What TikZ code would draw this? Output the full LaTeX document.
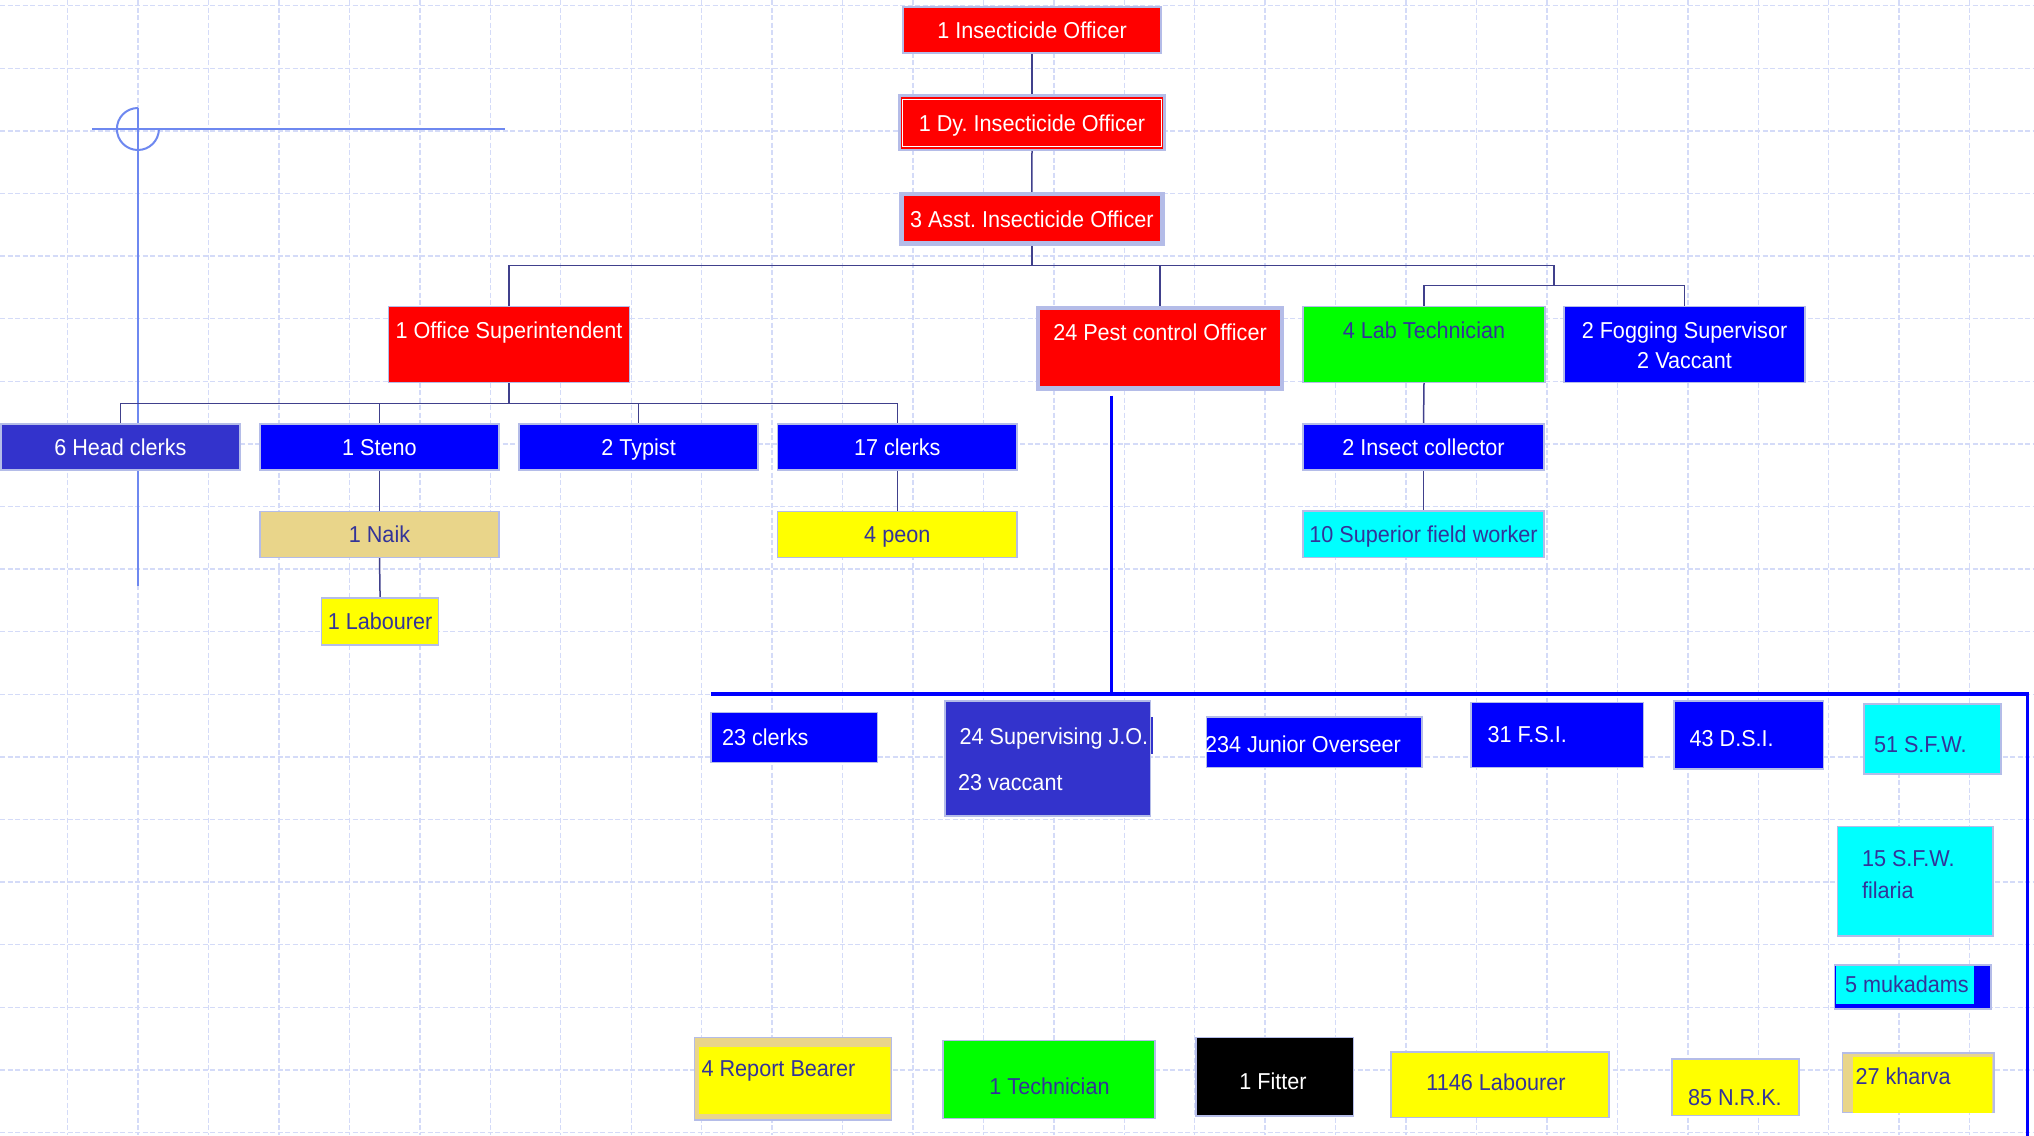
\documentclass[tikz,border=0pt]{standalone}
\usepackage{fontspec}
\setmainfont{Liberation Sans}[FakeStretch=0.94]
\usetikzlibrary{fit}
\definecolor{lav}{RGB}{180,188,232}
\definecolor{gridc}{RGB}{212,219,248}
\definecolor{connc}{RGB}{64,64,140}
\definecolor{strayc}{RGB}{110,136,240}
\definecolor{dark}{RGB}{51,51,153}
\definecolor{slate}{RGB}{51,51,204}
\definecolor{khaki}{RGB}{233,213,138}
\definecolor{redc}{RGB}{255,0,0}
\definecolor{bluec}{RGB}{0,0,255}
\definecolor{greenc}{RGB}{0,255,0}
\definecolor{cyanc}{RGB}{0,255,255}
\definecolor{yellowc}{RGB}{255,255,0}
\definecolor{blackc}{RGB}{0,0,0}
\newcommand\myfnt{\fontsize{23}{27}\selectfont\frenchspacing}
\pgfdeclarelayer{bg}
\pgfsetlayers{bg,main}
\begin{document}
\begin{tikzpicture}[x=1pt,y=-1pt,
  bx/.style={draw=lav, line width=1.5pt, inner sep=0pt, outer sep=0pt},
  tx/.style={inner sep=0pt, outer sep=0pt, font=\myfnt, text height=16.5pt, text depth=0pt},
  conn/.style={draw=connc, line width=1.5pt},
  bline/.style={draw=bluec, line width=3.5pt},
  stray/.style={draw=strayc, line width=2pt},
  gridline/.style={draw=gridc, line width=1.4pt, dash pattern=on 5pt off 2.5pt}]
\useasboundingbox (0,0) rectangle (2034,1135);
\begin{pgfonlayer}{bg}
\fill[white] (0,0) rectangle (2034,1135);
\foreach \i in {0,...,28} \draw[gridline] ({-2.74+70.44*\i},0) -- ({-2.74+70.44*\i},1135);
\foreach \j in {0,...,18} \draw[gridline] (0,{5.7+62.6*\j}) -- (2034,{5.7+62.6*\j});
\draw[stray] (92,129) -- (505,129);
\draw[stray] (137.9,108) -- (137.9,586);
\draw[stray] (137.9,108) arc[start angle=90, end angle=360, radius=21pt];
\end{pgfonlayer}

% top chain
\node[bx,fill=redc,fit={(903,7)(1161,53)}] (io) {};
\node[tx,text=white] (iot) at (io.center) {1 Insecticide Officer};
\node[bx,fill=redc,line width=2.5pt,fit={(899.5,95.5)(1164.5,150)}] (dy) {};
\draw[white,line width=1pt] (902.7,99) rectangle (1161.3,146.7);
\node[tx,text=white] (dyt) at (dy.center) {1 Dy. Insecticide Officer};
\node[bx,fill=redc,line width=4.5pt,fit={(901.3,194.2)(1162.3,243.6)}] (asst) {};
\node[tx,text=white] (asstt) at (asst.center) {3 Asst. Insecticide Officer};

% second level
\node[bx,fill=redc,fit={(388.5,306.7)(629.6,382.7)}] (os) {};
\node[tx,text=white] (ost) at (509,330) {1 Office Superintendent};
\node[bx,fill=redc,line width=4.5pt,fit={(1038,308)(1282,388.5)}] (pc) {};
\node[tx,text=white] (pct) at (1160,332.7) {24 Pest control Officer};
\node[bx,fill=greenc,fit={(1303,306.7)(1545,382.7)}] (lab) {};
\node[tx,text=dark] (labt) at (1424,330) {4 Lab Technician};
\node[bx,fill=bluec,fit={(1564,306.7)(1805,382.7)}] (fog) {};
\node[tx,text=white] (fogt1) at (1684.5,330) {2 Fogging Supervisor};
\node[tx,text=white] (fogt2) at (1684.5,360) {2 Vaccant};

% office row
\node[bx,fill=slate,fit={(0.75,424)(240,470)}] (hc) {};
\node[tx,text=white] (hct) at (hc.center) {6 Head clerks};
\node[bx,fill=bluec,fit={(260,424)(499,470)}] (steno) {};
\node[tx,text=white] (stenot) at (steno.center) {1 Steno};
\node[bx,fill=bluec,fit={(519,424)(758,470)}] (typist) {};
\node[tx,text=white] (typistt) at (typist.center) {2 Typist};
\node[bx,fill=bluec,fit={(777.6,424)(1017,470)}] (clA) {};
\node[tx,text=white] (clAt) at (clA.center) {17 clerks};
\node[bx,fill=khaki,fit={(260,511.7)(499,557.7)}] (naik) {};
\node[tx,text=dark] (naikt) at (naik.center) {1 Naik};
\node[bx,fill=yellowc,fit={(777.6,511.7)(1017,557.7)}] (peon) {};
\node[tx,text=dark] (peont) at (peon.center) {4 peon};
\node[bx,fill=yellowc,fit={(321.5,598)(438.7,645)}] (labr) {};
\node[tx,text=dark] (labrt) at (labr.center) {1 Labourer};

% lab branch
\node[bx,fill=bluec,fit={(1303,424)(1544,470)}] (ic) {};
\node[tx,text=white] (ict) at (ic.center) {2 Insect collector};
\node[bx,fill=cyanc,fit={(1303,511)(1544,557.7)}] (sfw) {};
\node[tx,text=dark] (sfwt) at (sfw.center) {10 Superior field worker};

% bottom group
\node[bx,fill=bluec,fit={(711,712.7)(877.5,762.3)}] (clB) {};
\node[tx,text=white,anchor=west] (clBt) at (722,737) {23 clerks};
\fill[slate] (1140,717.3) rectangle (1153.3,754);
\node[bx,fill=slate,fit={(945,701)(1150.7,816)}] (sup) {};
\node[tx,text=white,anchor=west] (supt1) at (959.6,736) {24 Supervising J.O.};
\node[tx,text=white,anchor=west] (supt2) at (958,782) {23 vaccant};
\node[bx,fill=bluec,fit={(1206.5,717)(1422,767.7)}] (jo) {};
\node[tx,text=white,anchor=west] (jot) at (1205,744.7) {234 Junior Overseer};
\node[bx,fill=bluec,fit={(1471,702.7)(1643.7,767.7)}] (fsi) {};
\node[tx,text=white,anchor=west] (fsit) at (1487.6,733.8) {31 F.S.I.};
\node[bx,fill=bluec,fit={(1674,701)(1823.5,769)}] (dsi) {};
\node[tx,text=white,anchor=west] (dsit) at (1689.6,738.7) {43 D.S.I.};
\node[bx,fill=cyanc,fit={(1864,704)(2001,774)}] (sfwa) {};
\node[tx,text=dark,anchor=west] (sfwat) at (1874,743.8) {51 S.F.W.};
\node[bx,fill=cyanc,fit={(1837.6,826.7)(1993,936)}] (sfwb) {};
\node[tx,text=dark,anchor=west] (sfwbt1) at (1862,858) {15 S.F.W.};
\node[tx,text=dark,anchor=west] (sfwbt2) at (1862,890) {filaria};
\node[bx,fill=bluec,fit={(1834.7,965)(1991,1009)}] (muk) {};
\fill[cyanc] (1835.5,965.8) rectangle (1974,1004);
\node[tx,text=dark,anchor=west] (mukt) at (1845,984.7) {5 mukadams};

% bottom row
\node[bx,fill=khaki,fit={(694.5,1037.3)(891.6,1120)}] (rb) {};
\fill[yellowc] (699,1047.3) rectangle (890,1114);
\node[tx,text=dark,anchor=west] (rbt) at (701.6,1068) {4 Report Bearer};
\node[bx,fill=greenc,fit={(943,1040.7)(1155,1118.3)}] (tech) {};
\node[tx,text=dark] (techt) at (1049.5,1086.7) {1 Technician};
\node[bx,fill=blackc,fit={(1196,1037.7)(1353.6,1116)}] (fitter) {};
\node[tx,text=white] (fittert) at (1273,1081.7) {1 Fitter};
\node[bx,fill=yellowc,fit={(1391,1052)(1609,1117.7)}] (labB) {};
\node[tx,text=dark] (labBt) at (1496,1082.3) {1146 Labourer};
\node[bx,fill=yellowc,fit={(1672,1059)(1799,1115.7)}] (nrk) {};
\node[tx,text=dark,anchor=west] (nrkt) at (1688,1097.5) {85 N.R.K.};
\node[bx,fill=khaki,fit={(1842.7,1053)(1994,1112.7)}] (kh) {};
\fill[yellowc] (1852.7,1057) rectangle (1991.6,1112.7);
\node[tx,text=dark,anchor=west] (kht) at (1855.6,1076.7) {27 kharva};

% connectors
\coordinate (busR) at (1554,265.7);
\coordinate (subR) at (1554,285.7);
\coordinate (ob) at (0,403.3);
\coordinate (pcd) at (1111.7,395.6);
\coordinate (bbL) at (711,694);
\coordinate (bbR) at (2027.5,694);
\coordinate (bbE) at (2027.5,1140);
\begin{pgfonlayer}{bg}
\draw[conn] (io.south) -- (dy.north);
\draw[conn] (dy.south) -- (asst.north);
\draw[conn] (asst.south) -- (asst.south |- busR);
\draw[conn] (os.north) |- (busR) -- (subR);
\draw[conn] (pc.north) -- (pc.north |- busR);
\draw[conn] (lab.north) |- (subR) -| (fog.north);
\draw[conn] (os.south) -- (os.south |- ob);
\draw[conn] (hc.north) |- (clA.north |- ob) -- (clA.north);
\draw[conn] (steno.north) -- (steno.north |- ob);
\draw[conn] (typist.north) -- (typist.north |- ob);
\draw[conn] (steno.south) -- (naik.north);
\draw[conn] (naik.south) -- (labr.north);
\draw[conn] (clA.south) -- (peon.north);
\draw[conn] (lab.south) -- (ic.north);
\draw[conn] (ic.south) -- (sfw.north);
\draw[bline] (pcd) -- (pcd |- bbL);
\draw[bline] (bbL) -- (bbR) -- (bbE);
\end{pgfonlayer}
\end{tikzpicture}
\end{document}
